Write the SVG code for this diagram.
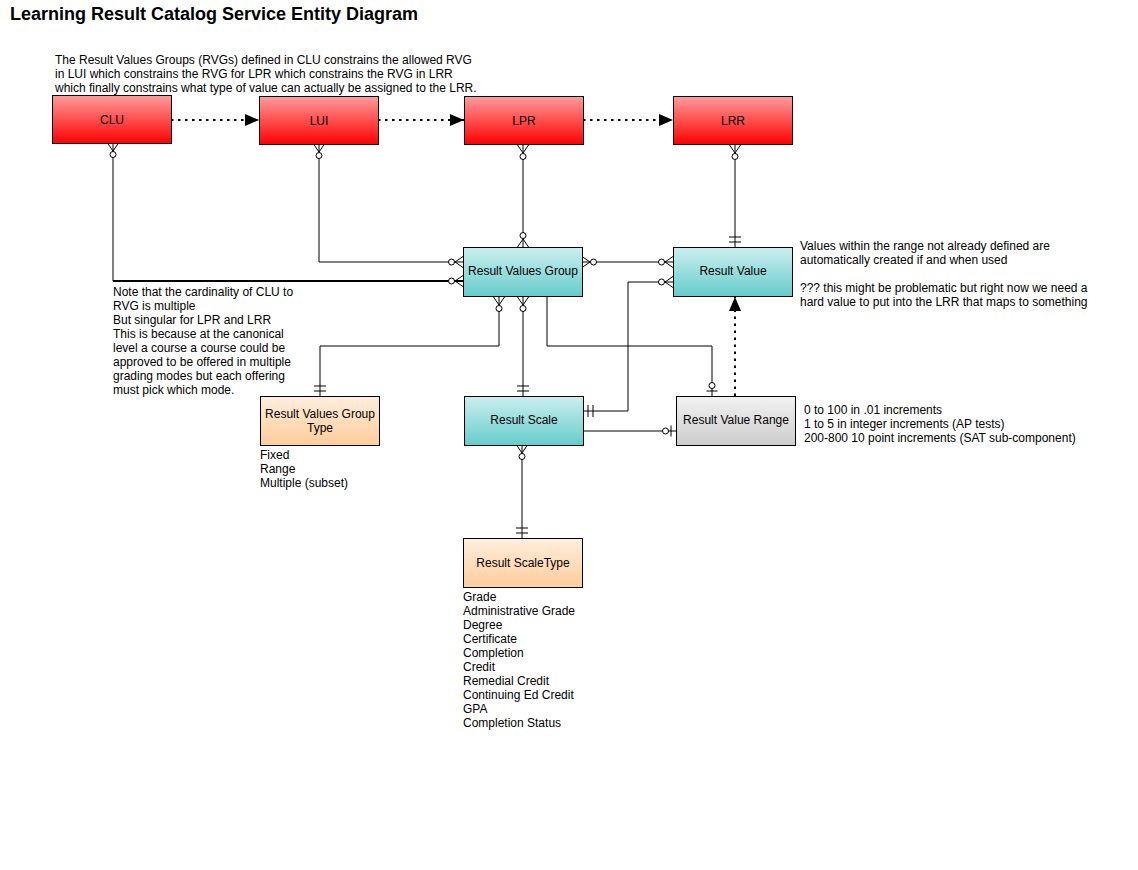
<svg xmlns="http://www.w3.org/2000/svg" width="1138" height="870" viewBox="0 0 1138 870">
<defs>
<linearGradient id="gRed" x1="0" y1="0" x2="0" y2="1"><stop offset="0" stop-color="#ff9c9c"/><stop offset="1" stop-color="#ff0000"/></linearGradient>
<linearGradient id="gCyan" x1="0" y1="0" x2="0" y2="1"><stop offset="0" stop-color="#ccefef"/><stop offset="1" stop-color="#66cccc"/></linearGradient>
<linearGradient id="gPeach" x1="0" y1="0" x2="0" y2="1"><stop offset="0" stop-color="#ffeedd"/><stop offset="1" stop-color="#ffcc99"/></linearGradient>
<linearGradient id="gGray" x1="0" y1="0" x2="0" y2="1"><stop offset="0" stop-color="#f2f2f2"/><stop offset="1" stop-color="#cccccc"/></linearGradient>
<marker id="zm" markerUnits="userSpaceOnUse" orient="auto-start-reverse" refX="0" refY="0" markerWidth="30" markerHeight="30" overflow="visible"><path d="M0,-5.5 L-8,0 M0,5.5 L-8,0" fill="none" stroke="#000"/><circle cx="-11.5" cy="0" r="3" fill="#fff" stroke="#000"/></marker>
<marker id="one" markerUnits="userSpaceOnUse" orient="auto-start-reverse" refX="0" refY="0" markerWidth="30" markerHeight="30" overflow="visible"><path d="M-5,-6 L-5,6 M-10,-6 L-10,6" fill="none" stroke="#000"/></marker>
<marker id="zo" markerUnits="userSpaceOnUse" orient="auto-start-reverse" refX="0" refY="0" markerWidth="30" markerHeight="30" overflow="visible"><path d="M-5,-5.5 L-5,5.5" fill="none" stroke="#000"/><circle cx="-10.5" cy="0" r="3" fill="#fff" stroke="#000"/></marker>
<marker id="arr" markerUnits="userSpaceOnUse" orient="auto" refX="0" refY="0" markerWidth="30" markerHeight="30" overflow="visible"><path d="M0,0 L-14,-6 L-14,6 Z" fill="#000" stroke="none"/></marker>
</defs>
<style>
text{font-family:"Liberation Sans",Arial,sans-serif;font-size:12px;fill:#000}
.title{font-size:18px;font-weight:bold}
.lbl{text-anchor:middle}
.box{stroke:#000;stroke-width:1}
.red{fill:url(#gRed)}
.cyan{fill:url(#gCyan)}
.peach{fill:url(#gPeach)}
.gray{fill:url(#gGray)}
.c{fill:none;stroke:#000;stroke-width:1}
.dot{fill:none;stroke:#000;stroke-width:2;stroke-dasharray:2.5,4.5;marker-end:url(#arr)}
</style>
<rect width="1138" height="870" fill="#fff"/>
<text class="title" x="10" y="20">Learning Result Catalog Service Entity Diagram</text>
<g id="note-top">
<text x="55" y="64">The Result Values Groups (RVGs) defined in CLU constrains the allowed RVG</text>
<text x="55" y="78">in LUI which constrains the RVG for LPR which constrains the RVG in LRR</text>
<text x="55" y="92">which finally constrains what type of value can actually be assigned to the LRR.</text>
</g>
<g id="connectors">
<path class="dot" d="M171,120 H259"/>
<path class="dot" d="M378,120 H464"/>
<path class="dot" d="M583,120 H673"/>
<path class="dot" d="M735,396 V297"/>
<path class="c" d="M113,143 V281" marker-start="url(#zm)"/>
<path class="c" style="stroke-width:2" d="M113,281 H463" marker-end="url(#zm)"/>
<path class="c" d="M319,144 V262 H463" marker-start="url(#zm)" marker-end="url(#zm)"/>
<path class="c" d="M523,145 V247" marker-start="url(#zm)" marker-end="url(#zm)"/>
<path class="c" d="M735,145 V247" marker-start="url(#zm)" marker-end="url(#one)"/>
<path class="c" d="M582,262 H673" marker-start="url(#zm)" marker-end="url(#zm)"/>
<path class="c" d="M673,282 H628 V411 H583" marker-start="url(#zm)" marker-end="url(#one)"/>
<path class="c" d="M499,297 V346 H320 V396" marker-start="url(#zm)" marker-end="url(#one)"/>
<path class="c" d="M523,297 V396" marker-start="url(#zm)" marker-end="url(#one)"/>
<path class="c" d="M547,297 V346 H712 V396" marker-end="url(#zo)"/>
<path class="c" d="M583,431 H676" marker-end="url(#zo)"/>
<path class="c" d="M522,445 V538" marker-start="url(#zm)" marker-end="url(#one)"/>
</g>
<g id="CLU"><rect class="box red" x="52.5" y="95.5" width="119" height="48"/><text class="lbl" x="112" y="124">CLU</text></g>
<g id="LUI"><rect class="box red" x="259.5" y="96.5" width="119" height="48"/><text class="lbl" x="319" y="125">LUI</text></g>
<g id="LPR"><rect class="box red" x="464.5" y="96.5" width="119" height="48"/><text class="lbl" x="524" y="125">LPR</text></g>
<g id="LRR"><rect class="box red" x="673.5" y="96.5" width="119" height="48"/><text class="lbl" x="733" y="125">LRR</text></g>
<g id="ResultValuesGroup"><rect class="box cyan" x="463.5" y="247.5" width="119" height="49"/><text class="lbl" x="523" y="275">Result Values Group</text></g>
<g id="ResultValue"><rect class="box cyan" x="673.5" y="247.5" width="119" height="49"/><text class="lbl" x="733" y="275">Result Value</text></g>
<g id="ResultScale"><rect class="box cyan" x="464.5" y="396.5" width="119" height="49"/><text class="lbl" x="524" y="424">Result Scale</text></g>
<g id="ResultValueRange"><rect class="box gray" x="676.5" y="396.5" width="119" height="49"/><text class="lbl" x="736" y="424">Result Value Range</text></g>
<g id="ResultValuesGroupType"><rect class="box peach" x="260.5" y="396.5" width="119" height="49"/><text class="lbl" x="320" y="418">Result Values Group</text><text class="lbl" x="320" y="432">Type</text></g>
<g id="ResultScaleType"><rect class="box peach" x="463.5" y="538.5" width="119" height="49"/><text class="lbl" x="523" y="567">Result ScaleType</text></g>
<g id="note-left">
<text x="113" y="296">Note that the cardinality of CLU to</text>
<text x="113" y="310">RVG is multiple</text>
<text x="113" y="324">But singular for LPR and LRR</text>
<text x="113" y="338">This is because at the canonical</text>
<text x="113" y="352">level a course a course could be</text>
<text x="113" y="366">approved to be offered in multiple</text>
<text x="113" y="380">grading modes but each offering</text>
<text x="113" y="394">must pick which mode.</text>
</g>
<g id="note-right">
<text x="800" y="250">Values within the range not already defined are</text>
<text x="800" y="264">automatically created if and when used</text>
<text x="800" y="292">??? this might be problematic but right now we need a</text>
<text x="800" y="306">hard value to put into the LRR that maps to something</text>
</g>
<g id="note-range">
<text x="804" y="414">0 to 100 in .01 increments</text>
<text x="804" y="428">1 to 5 in integer increments (AP tests)</text>
<text x="804" y="442">200-800 10 point increments (SAT sub-component)</text>
</g>
<g id="note-rvgtype">
<text x="260" y="459">Fixed</text>
<text x="260" y="473">Range</text>
<text x="260" y="487">Multiple (subset)</text>
</g>
<g id="note-scaletype">
<text x="463" y="601">Grade</text>
<text x="463" y="615">Administrative Grade</text>
<text x="463" y="629">Degree</text>
<text x="463" y="643">Certificate</text>
<text x="463" y="657">Completion</text>
<text x="463" y="671">Credit</text>
<text x="463" y="685">Remedial Credit</text>
<text x="463" y="699">Continuing Ed Credit</text>
<text x="463" y="713">GPA</text>
<text x="463" y="727">Completion Status</text>
</g>
</svg>
